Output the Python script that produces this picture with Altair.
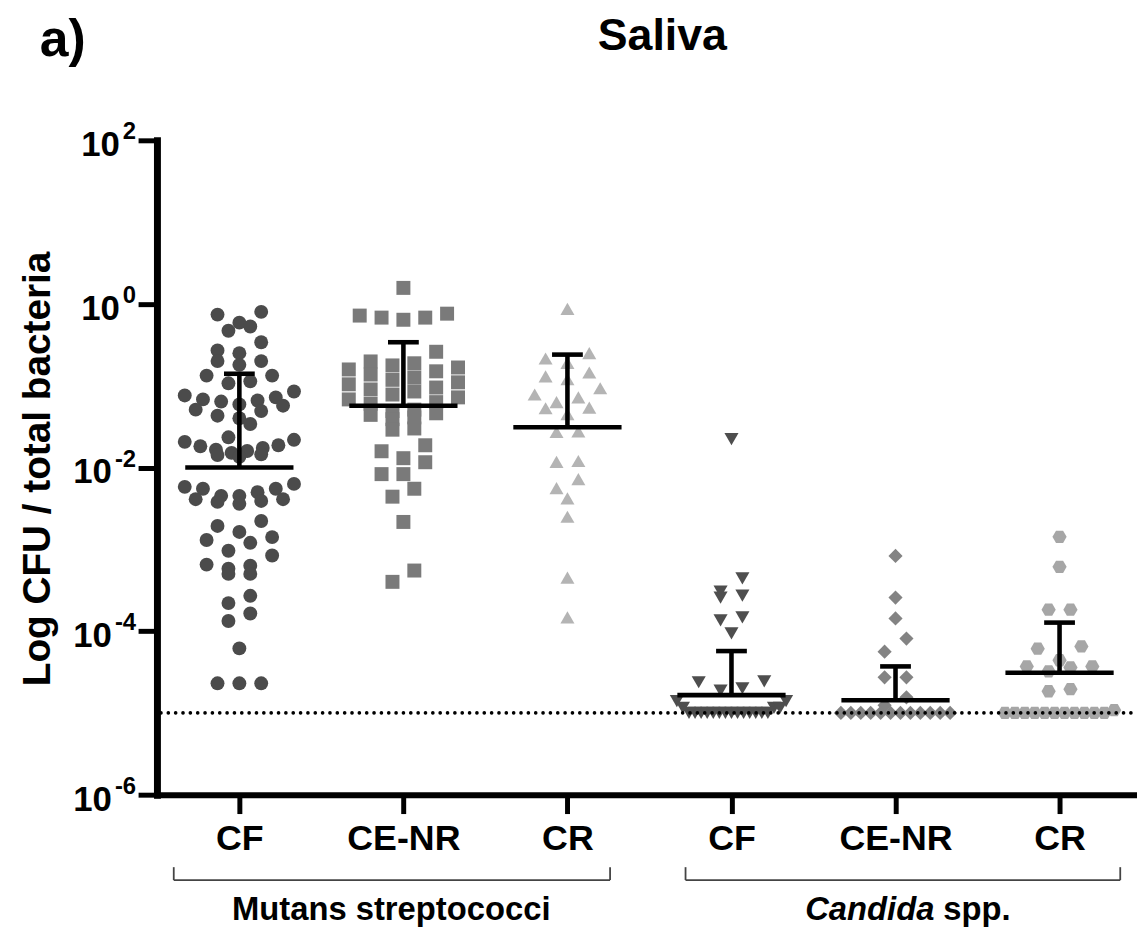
import altair as alt
import pandas as pd
import numpy as np

# ---------------- data ----------------
groups = ["MS_CF", "MS_CENR", "MS_CR", "CA_CF", "CA_CENR", "CA_CR"]
tick_labels = ["CF", "CE-NR", "CR", "CF", "CE-NR", "CR"]

ms_cf = [0.80, 0.74, 0.59, 0.53, 0.47, 0.34, 0.27, 0.25, 0.20, 0.20, 0.18,
         0.133, 0.133, 0.113, 0.107, 0.085, 0.076, 0.068, 0.064, 0.059, 0.051,
         0.072, 0.066, 0.057, 0.049, 0.043, 0.040, 0.034, 0.0234, 0.0218,
         0.0206, 0.0187, 0.0182, 0.0173, 0.0165, 0.0159, 0.0151, 0.0145,
         0.0142, 0.0135, 0.0063, 0.0058, 0.0055, 0.0055, 0.0050, 0.0045,
         0.0045, 0.0041, 0.0041, 0.0039, 0.0038, 0.0036, 0.00222, 0.00193,
         0.00163, 0.00141, 0.00130, 0.00120, 0.00096, 0.00084, 0.00065,
         0.00063, 0.00058, 0.00050, 0.00050, 0.00027, 0.00022, 0.000164,
         0.000133, 0.0000614, 0.000023, 0.000023, 0.000023]
ms_cenr = [1.57, 0.76, 0.72, 0.68, 0.68, 0.64, 0.26, 0.198, 0.188, 0.177,
           0.167, 0.158, 0.150, 0.137, 0.126, 0.118, 0.110, 0.104, 0.095,
           0.090, 0.085, 0.078, 0.072, 0.068, 0.063, 0.060, 0.051, 0.049,
           0.046, 0.044, 0.041, 0.039, 0.030, 0.029, 0.0187, 0.0158, 0.0130,
           0.0116, 0.0083, 0.0083, 0.0055, 0.0044, 0.00216, 0.00055, 0.00040]
ms_cr = [0.87, 0.25, 0.215, 0.19, 0.145, 0.13, 0.12, 0.093, 0.078, 0.072,
         0.063, 0.054, 0.053, 0.045, 0.0277, 0.0272, 0.0120, 0.0117, 0.0072,
         0.0056, 0.0042, 0.0025, 0.00045, 0.000147]
ca_cf = [0.0222, 4.4e-4, 3.03e-4, 2.72e-4, 2.57e-4, 1.47e-4, 1.35e-4, 9.4e-5,
         2.43e-5, 2.37e-5, 2.0e-5, 1.87e-5, 1.39e-5, 1.39e-5, 1.15e-5,
         1.15e-5, 1.15e-5, 1e-5, 1e-5, 1e-5, 1e-5, 1e-5, 1e-5, 1e-5, 1e-5,
         1e-5, 1e-5, 1e-5, 1e-5, 1e-5, 1e-5]
ca_cenr = [8.3e-4, 2.57e-4, 1.43e-4, 8.1e-5, 5.6e-5, 2.72e-5, 2.72e-5,
           1.55e-5, 1.24e-5, 1e-5, 1e-5, 1e-5, 1e-5, 1e-5, 1e-5, 1e-5, 1e-5,
           1e-5, 1e-5, 1e-5, 1e-5]
ca_cr = [1.42e-3, 6.1e-4, 1.83e-4, 1.83e-4, 6.5e-5, 6.1e-5, 4.4e-5, 3.7e-5,
         3.7e-5, 3.6e-5, 3.22e-5, 1.95e-5, 1.84e-5, 1.08e-5, 1e-5, 1e-5, 1e-5,
         1e-5, 1e-5, 1e-5, 1e-5, 1e-5, 1e-5, 1e-5, 1e-5]

medians = [0.010, 0.057, 0.031, 1.65e-5, 1.43e-5, 3.1e-5]
uppers = [0.14, 0.34, 0.24, 5.7e-5, 3.7e-5, 1.27e-4]
detection_limit = 1e-5

y_ticks = [1e2, 1e0, 1e-2, 1e-4, 1e-6]
y_exponents = ["2", "0", "-2", "-4", "-6"]

title_text = "Saliva"
panel_text = "a)"
y_title = "Log CFU / total bacteria"
family1 = "Mutans streptococci"
family2_italic = "Candida"
family2_rest = "spp."

# ---------------- layout / style ----------------
FONT = "Liberation Sans, Arial, Helvetica, sans-serif"
W, H = 987, 659
STEP = 165.2          # px between categories
X0 = 83.0             # px from axis to first category
PX_DEC = H / 8.0

colors = ["#4b4b4b", "#7a7a7a", "#b4b4b4", "#4e4e4e", "#838383", "#a6a6a6"]
hexagon = "M-1,0L-0.5,-0.866L0.5,-0.866L1,0L0.5,0.866L-0.5,0.866Z"
shapes = ["circle", "square", "triangle-up", "triangle-down", "diamond", hexagon]
sizes = [196, 205, 205, 205, 185, 235]


def swarm(values, row_h=14.0, gap=22.0, max_half=55.0):
    ys = [(2 - np.log10(v)) * PX_DEC for v in values]
    order = sorted(range(len(values)), key=lambda i: ys[i])
    rows, cur, start = [], [], None
    for i in order:
        if start is None or ys[i] - start >= row_h:
            if cur:
                rows.append(cur)
            cur, start = [i], ys[i]
        else:
            cur.append(i)
    if cur:
        rows.append(cur)
    offs = [0.0] * len(values)
    for row in rows:
        n = len(row)
        sp = gap if n == 1 else min(gap, 2 * max_half / (n - 1))
        row_sorted = sorted(row, key=lambda i: -ys[i])
        slots = [0.0] if n % 2 else []
        k = 1.0 if n % 2 else 0.5
        while len(slots) < n:
            slots += [-k, k]
            k += 1
        for i, s in zip(row_sorted, slots):
            offs[i] = s * sp
    return offs


series = [ms_cf, ms_cenr, ms_cr, ca_cf, ca_cenr, ca_cr]
rows = []
for gi, (g, vals) in enumerate(zip(groups, series)):
    offs = swarm(vals)
    for v, o in zip(vals, offs):
        rows.append({"group": g, "value": v, "xpos": gi + o / STEP})
pts_df = pd.DataFrame(rows)

MED_HALF = 54.5 / STEP
CAP_HALF = 15.5 / STEP
stat_df = pd.DataFrame({
    "idx": list(range(6)),
    "median": medians,
    "upper": uppers,
})
stat_df["m1"] = stat_df["idx"] - MED_HALF
stat_df["m2"] = stat_df["idx"] + MED_HALF
stat_df["c1"] = stat_df["idx"] - CAP_HALF
stat_df["c2"] = stat_df["idx"] + CAP_HALF

xscale = alt.Scale(domain=[-X0 / STEP, (W - X0) / STEP], nice=False, zero=False)
yscale = alt.Scale(type="log", domain=[1e-6, 1e2], nice=False)

label_expr = "[" + ",".join("'%s'" % t for t in tick_labels) + "][datum.value]"
xaxis = alt.Axis(values=list(range(6)), labelExpr=label_expr, title=None, grid=False,
                 domainColor="black", domainWidth=6, domainCap="square",
                 tickColor="black", tickWidth=5, tickSize=19,
                 labelFont=FONT, labelFontSize=36, labelFontWeight="bold",
                 labelColor="black", labelPadding=8, labelFlush=False,
                 labelOverlap=False)
yaxis = alt.Axis(values=y_ticks, labels=False, title=None, grid=False,
                 domainColor="black", domainWidth=7, domainCap="square",
                 tickColor="black", tickWidth=5, tickSize=19)


def X(field):
    return alt.X(field, type="quantitative", scale=xscale, axis=xaxis)


def Y(field):
    return alt.Y(field, type="quantitative", scale=yscale, axis=yaxis)


points = alt.Chart(pts_df).mark_point(filled=True, opacity=1, strokeWidth=0).encode(
    x=X("xpos"),
    y=Y("value"),
    shape=alt.Shape("group:N", scale=alt.Scale(domain=groups, range=shapes), legend=None),
    color=alt.Color("group:N", scale=alt.Scale(domain=groups, range=colors), legend=None),
    size=alt.Size("group:N", scale=alt.Scale(domain=groups, range=sizes), legend=None),
)

lod = alt.Chart(pd.DataFrame({"v": [detection_limit]})).mark_rule(
    color="black", strokeWidth=3.6, strokeDash=[0.1, 7.3], strokeCap="round"
).encode(y=Y("v"), x=alt.value(4), x2=alt.value(W))

med = alt.Chart(stat_df).mark_rule(color="black", strokeWidth=4.6).encode(
    x=X("m1"), x2="m2", y=Y("median"))
vbar = alt.Chart(stat_df).mark_rule(color="black", strokeWidth=4.6).encode(
    x=X("idx"), y=Y("median"), y2="upper")
cap = alt.Chart(stat_df).mark_rule(color="black", strokeWidth=4.6).encode(
    x=X("c1"), x2="c2", y=Y("upper"))

# y tick labels 10^n, right aligned
EXP_FS = 24
def exp_width(s):
    return sum((0.333 if ch == "-" else 0.556) * EXP_FS for ch in s)

EXP_RIGHT = -21
tick_df = pd.DataFrame({"v": y_ticks, "e": y_exponents})
tick_df["x10"] = [EXP_RIGHT - exp_width(e) - 3 for e in y_exponents]
base_lab = alt.Chart(tick_df).mark_text(
    text="10", font=FONT, fontSize=35, fontWeight="bold", color="black",
    align="right", baseline="alphabetic", dy=16
).encode(y=Y("v"), x=alt.X("x10:Q", scale=None, axis=None))
exp_lab = alt.Chart(tick_df).mark_text(
    font=FONT, fontSize=EXP_FS, fontWeight="bold", color="black",
    align="right", baseline="alphabetic", dy=-1
).encode(y=Y("v"), x=alt.value(EXP_RIGHT), text="e:N")

one = pd.DataFrame({"k": [0]})
title = alt.Chart(one).mark_text(
    text=title_text, font=FONT, fontSize=45, fontWeight="bold", color="black",
    align="center", baseline="alphabetic"
).encode(x=alt.value(509), y=alt.value(-91))
panel = alt.Chart(one).mark_text(
    text=panel_text, font=FONT, fontSize=52, fontWeight="bold", color="black",
    align="left", baseline="alphabetic"
).encode(x=alt.value(-118), y=alt.value(-85))
ytitle = alt.Chart(one).mark_text(
    text=y_title, font=FONT, fontSize=39, fontWeight="bold", color="black",
    align="center", baseline="alphabetic", angle=270
).encode(x=alt.value(-108), y=alt.value(331))

# group brackets below the axis
BR_Y, BR_TOP = 745, 732
br_df = pd.DataFrame({"a": [-0.40, 2.72], "b": [2.26, 5.37]})
br_h = alt.Chart(br_df).mark_rule(color="#444", strokeWidth=1.8).encode(
    x=X("a"), x2="b", y=alt.value(BR_Y))
br_l = alt.Chart(br_df).mark_rule(color="#444", strokeWidth=1.8).encode(
    x=X("a"), y=alt.value(BR_TOP), y2=alt.value(BR_Y))
br_r = alt.Chart(br_df).mark_rule(color="#444", strokeWidth=1.8).encode(
    x=X("b"), y=alt.value(BR_TOP), y2=alt.value(BR_Y))

LAB_Y = 785
fam1 = alt.Chart(pd.DataFrame({"x": [0.926]})).mark_text(
    text=family1, font=FONT, fontSize=33, fontWeight="bold", color="black",
    align="center", baseline="alphabetic"
).encode(x=X("x"), y=alt.value(LAB_Y))
fam2a = alt.Chart(pd.DataFrame({"x": [4.237]})).mark_text(
    text=family2_italic, font=FONT, fontSize=33, fontWeight="bold",
    fontStyle="italic", color="black", align="right", baseline="alphabetic"
).encode(x=X("x"), y=alt.value(LAB_Y))
fam2b = alt.Chart(pd.DataFrame({"x": [4.237]})).mark_text(
    text=family2_rest, font=FONT, fontSize=33, fontWeight="bold", color="black",
    align="left", baseline="alphabetic", dx=9
).encode(x=X("x"), y=alt.value(LAB_Y))

chart = alt.layer(
    points, lod, med, vbar, cap, base_lab, exp_lab, title, panel, ytitle,
    br_h, br_l, br_r, fam1, fam2a, fam2b
).properties(
    width=W, height=H,
    autosize=alt.AutoSizeParams(type="none"),
    padding={"left": 150, "top": 130, "right": 0, "bottom": 131},
).configure(background="white").configure_view(stroke=None)

chart.save("out.html", embed_options={"renderer": "svg", "actions": False})
